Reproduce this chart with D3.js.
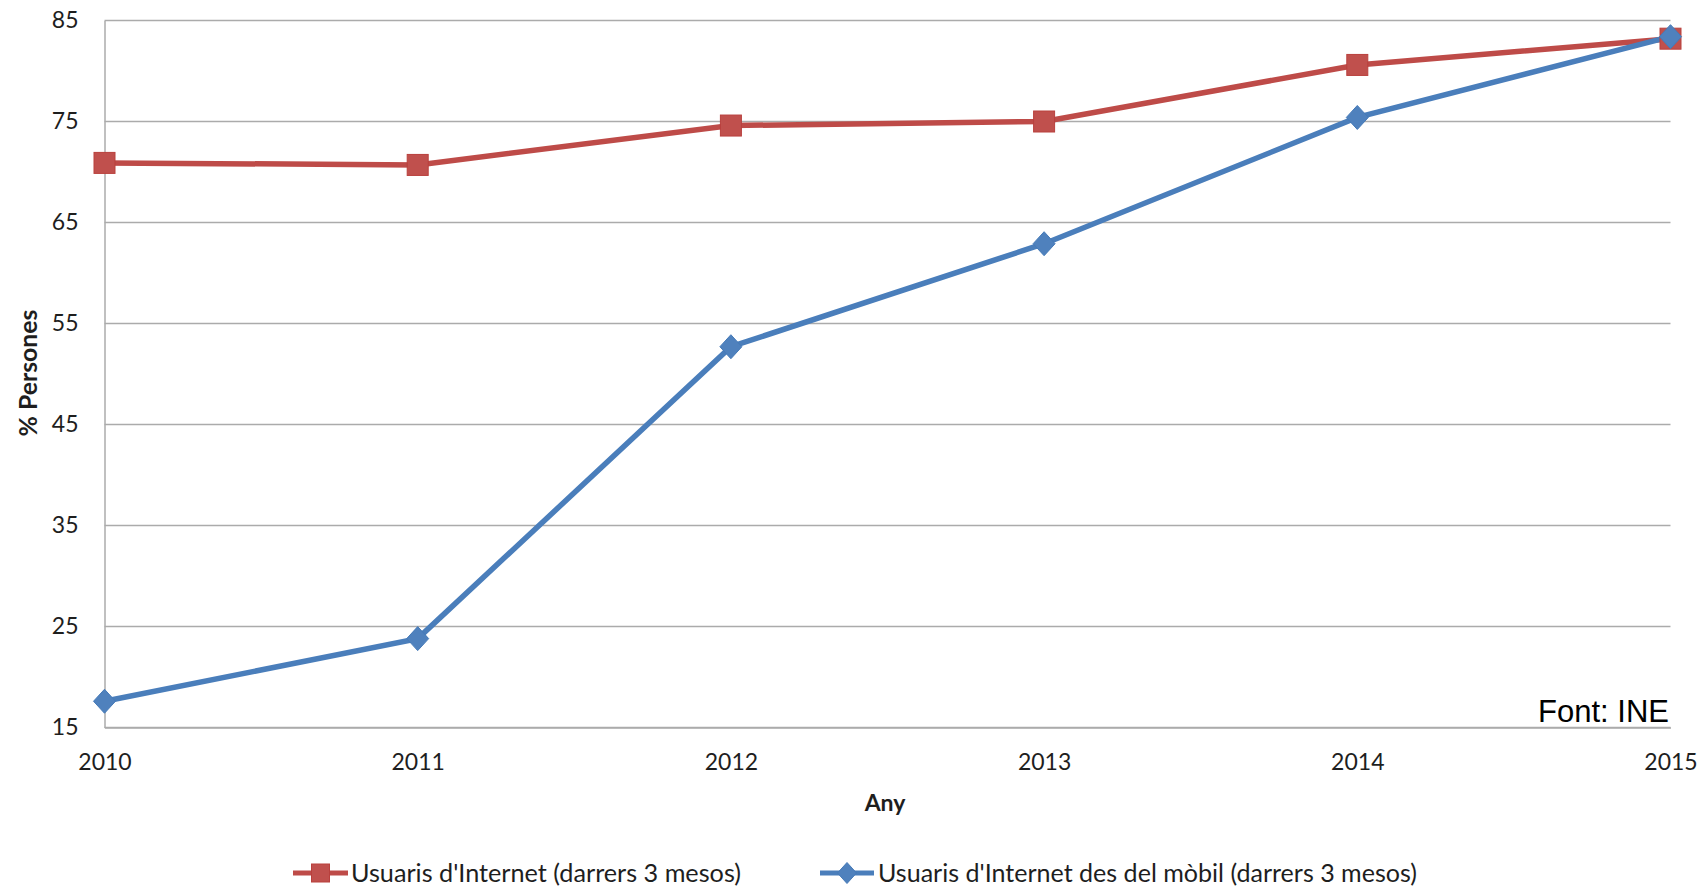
<!DOCTYPE html>
<html>
<head>
<meta charset="utf-8">
<script src="https://cdn.jsdelivr.net/npm/d3@7"></script>
<style>
  html, body { margin: 0; padding: 0; background: #fff; }
  svg { display: block; }
</style>
</head>
<body>
<svg id="chart" width="1708" height="888"></svg>
<script>
const years = [2010, 2011, 2012, 2013, 2014, 2015];
const internetUsers = [70.9, 70.7, 74.6, 75.0, 80.6, 83.2];
const mobileUsers = [17.6, 23.8, 52.7, 62.9, 75.4, 83.4];
const yTicks = [15, 25, 35, 45, 55, 65, 75, 85];
const seriesNames = ["Usuaris d'Internet (darrers 3 mesos)", "Usuaris d'Internet des del mòbil (darrers 3 mesos)"];
const yTitle = "% Persones";
const xTitle = "Any";
const sourceText = "Font: INE";

(function () {
const svg = d3.select("#chart");
const pLeft = 104.5, pRight = 1670.5, pTop = 20.5, pBottom = 727.5;

const x = d3.scaleLinear().domain([2010, 2015]).range([pLeft, pRight]);
const y = d3.scaleLinear().domain([15, 85]).range([pBottom, pTop]);

const gridColor = "#ababab";
const font = "Lato, 'Open Sans', sans-serif";

// gridlines
svg.append("g").selectAll("line").data(yTicks).join("line")
  .attr("x1", pLeft).attr("x2", pRight)
  .attr("y1", d => y(d)).attr("y2", d => y(d))
  .attr("stroke", gridColor).attr("stroke-width", 1.5);

// y axis
const yAxis = svg.append("g").attr("transform", `translate(${pLeft},0)`)
  .call(d3.axisLeft(y).tickValues(yTicks).tickSize(0).tickPadding(26).tickFormat(d3.format("d")));
yAxis.select(".domain").attr("stroke", gridColor).attr("stroke-width", 1.5);
yAxis.selectAll("text").attr("font-family", font).attr("font-size", 23).attr("fill", "#1e1e1e");

// x axis
const xAxis = svg.append("g").attr("transform", `translate(0,${pBottom})`)
  .call(d3.axisBottom(x).tickValues(years).tickSize(0).tickPadding(26).tickFormat(d3.format("d")));
xAxis.select(".domain").attr("stroke", gridColor).attr("stroke-width", 1.5);
xAxis.selectAll("text").attr("font-family", font).attr("font-size", 23).attr("fill", "#1e1e1e");

// axis titles
svg.append("text")
  .attr("transform", `translate(37,373) rotate(-90)`)
  .attr("text-anchor", "middle")
  .attr("font-family", font).attr("font-weight", "bold").attr("font-size", 24)
  .attr("fill", "#1e1e1e")
  .attr("textLength", 127).attr("lengthAdjust", "spacingAndGlyphs")
  .text(yTitle);

svg.append("text")
  .attr("x", 885).attr("y", 811)
  .attr("text-anchor", "middle")
  .attr("font-family", font).attr("font-weight", "bold").attr("font-size", 23)
  .attr("fill", "#1e1e1e")
  .text(xTitle);

// source
svg.append("text")
  .attr("x", 1669).attr("y", 722)
  .attr("text-anchor", "end")
  .attr("font-family", "'Liberation Sans', Arial, sans-serif").attr("font-size", 31)
  .attr("fill", "#000")
  .text(sourceText);

const redLine = "#BE4B48", redFill = "#C0504D";
const blueLine = "#4A7EBB", blueFill = "#4F81BD";

const line = d3.line().x(d => x(d[0])).y(d => y(d[1]));
const internetData = years.map((yr, i) => [yr, internetUsers[i]]);
const mobileData = years.map((yr, i) => [yr, mobileUsers[i]]);

svg.append("path").datum(internetData).attr("d", line)
  .attr("fill", "none").attr("stroke", redLine).attr("stroke-width", 5.5);
svg.append("path").datum(mobileData).attr("d", line)
  .attr("fill", "none").attr("stroke", blueLine).attr("stroke-width", 5.5);

const sq = 21;
svg.append("g").selectAll("rect").data(internetData).join("rect")
  .attr("x", d => x(d[0]) - sq / 2).attr("y", d => y(d[1]) - sq / 2)
  .attr("width", sq).attr("height", sq)
  .attr("fill", redFill).attr("stroke", "#B9403D").attr("stroke-width", 1);

const diamond = (cx, cy, w, h) => `M${cx},${cy - h} L${cx + w},${cy} L${cx},${cy + h} L${cx - w},${cy} Z`;
svg.append("g").selectAll("path").data(mobileData).join("path")
  .attr("d", d => diamond(x(d[0]), y(d[1]), 11, 12))
  .attr("fill", blueFill).attr("stroke", "#457AB8").attr("stroke-width", 1);

// legend
const legY = 873;
const leg = svg.append("g");
leg.append("line").attr("x1", 293).attr("x2", 348).attr("y1", legY).attr("y2", legY)
  .attr("stroke", redLine).attr("stroke-width", 5);
leg.append("rect").attr("x", 320.5 - 9).attr("y", legY - 9).attr("width", 18).attr("height", 18)
  .attr("fill", redFill).attr("stroke", "#B9403D");
leg.append("text").attr("x", 351).attr("y", legY + 9)
  .attr("font-family", font).attr("font-size", 25).attr("fill", "#1e1e1e")
  .attr("textLength", 390).attr("lengthAdjust", "spacingAndGlyphs")
  .text(seriesNames[0]);
leg.append("line").attr("x1", 820).attr("x2", 874).attr("y1", legY).attr("y2", legY)
  .attr("stroke", blueLine).attr("stroke-width", 5);
leg.append("path").attr("d", diamond(847, legY, 9.5, 10.5))
  .attr("fill", blueFill).attr("stroke", "#457AB8");
leg.append("text").attr("x", 878).attr("y", legY + 9)
  .attr("font-family", font).attr("font-size", 25).attr("fill", "#1e1e1e")
  .attr("textLength", 539).attr("lengthAdjust", "spacingAndGlyphs")
  .text(seriesNames[1]);
})();
</script>
</body>
</html>
